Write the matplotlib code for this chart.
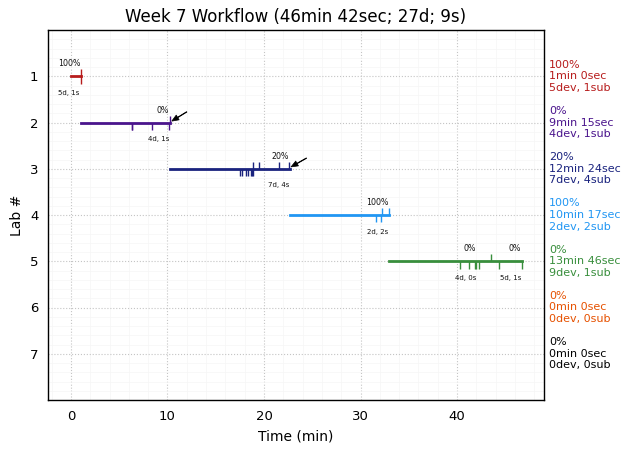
import matplotlib
matplotlib.use("Agg")
import matplotlib.pyplot as plt

labs = [1, 2, 3, 4, 5, 6, 7]
colors = ["#B71C1C", "#4A148C", "#1A237E", "#2196F3", "#388E3C", "#E65100", "#000000"]
starts = [0.0, 1.0, 10.25, 22.65, 32.93]
ends = [1.0, 10.25, 22.65, 32.93, 46.7]
up_ticks = [[1.0], [10.25], [18.9, 19.45, 21.6, 22.6], [32.2, 32.95], [43.5]]
down_ticks = [
    [1.0],
    [6.3, 6.35, 8.45, 10.2],
    [17.5, 17.75, 18.1, 18.3, 18.7, 18.8, 18.9],
    [31.6, 32.1],
    [40.3, 41.2, 41.9, 42.0, 42.3, 44.35, 46.7],
]
right_pct = ["100%", "0%", "20%", "100%", "0%", "0%", "0%"]
right_time = ["1min 0sec", "9min 15sec", "12min 24sec", "10min 17sec", "13min 46sec", "0min 0sec", "0min 0sec"]
right_dev = ["5dev, 1sub", "4dev, 1sub", "7dev, 4sub", "2dev, 2sub", "9dev, 1sub", "0dev, 0sub", "0dev, 0sub"]
# text, x, lab
pct_notes = [("100%", -0.2, 1), ("0%", 9.5, 2), ("20%", 21.7, 3), ("100%", 31.7, 4), ("0%", 41.3, 5), ("0%", 46.0, 5)]
gap_notes = [("5d, 1s", -0.2, 1), ("4d, 1s", 9.1, 2), ("7d, 4s", 21.5, 3), ("2d, 2s", 31.8, 4), ("4d, 0s", 40.9, 5), ("5d, 1s", 45.5, 5)]
arrows = [(10.45, 1.97, 12.0, 1.77), (22.8, 2.96, 24.4, 2.77)]
x_ticks = [0, 10, 20, 30, 40]
x_minor = [i * 2 for i in range(-1, 25)]
y_minor = [i * 0.2 for i in range(0, 41)]

fig = plt.figure(figsize=(6.3, 4.53), dpi=100)
ax = fig.add_axes([48 / 630, 1 - 400 / 453, (544 - 48) / 630, (400 - 30) / 453])

for lab, c, s, e, up, down in zip(labs, colors, starts, ends, up_ticks, down_ticks):
    ax.hlines(lab, s, e, color=c, lw=2, zorder=3, capstyle="projecting")
    ax.vlines(up, lab - 0.15, lab, color=c, lw=1, zorder=3)
    ax.vlines(down, lab, lab + 0.16, color=c, lw=1, zorder=3)

for txt, x, lab in pct_notes:
    ax.text(x, lab - 0.27, txt, fontsize=5.7, ha="center", va="center", color="#111111")
for txt, x, lab in gap_notes:
    ax.text(x, lab + 0.36, txt, fontsize=5, ha="center", va="center", color="#111111")
for x, y, tx, ty in arrows:
    ax.annotate("", xy=(x, y), xytext=(tx, ty),
                arrowprops=dict(facecolor="black", edgecolor="black", width=0.4,
                                headwidth=4, headlength=5, lw=0.5, shrink=0))

for lab, c, p, t, d in zip(labs, colors, right_pct, right_time, right_dev):
    ax.text(49.5, lab, f"{p}\n{t}\n{d}", fontsize=8, color=c, ha="left", va="center", clip_on=False)

ax.set_xlim(-2.37, 49)
ax.set_ylim(8, 0)
ax.set_xticks(x_ticks)
ax.set_yticks(labs)
ax.set_xticks(x_minor, minor=True)
ax.set_yticks(y_minor, minor=True)
ax.grid(True, which="major", linestyle=":", color="#c4c4c4", lw=0.8)
ax.grid(True, which="minor", linestyle="-", color="#f6f6f6", lw=0.5)
ax.set_axisbelow(True)
for spine in ax.spines.values():
    spine.set_linewidth(1.0)
ax.tick_params(which="both", length=0)
ax.tick_params(which="major", labelsize=9.5, pad=7)
ax.set_xlabel("Time (min)", labelpad=4.8)
ax.set_ylabel("Lab #", labelpad=4.4)
ax.set_title("Week 7 Workflow (46min 42sec; 27d; 9s)", fontsize=12, pad=6)
fig.savefig("out.png", dpi=100)
